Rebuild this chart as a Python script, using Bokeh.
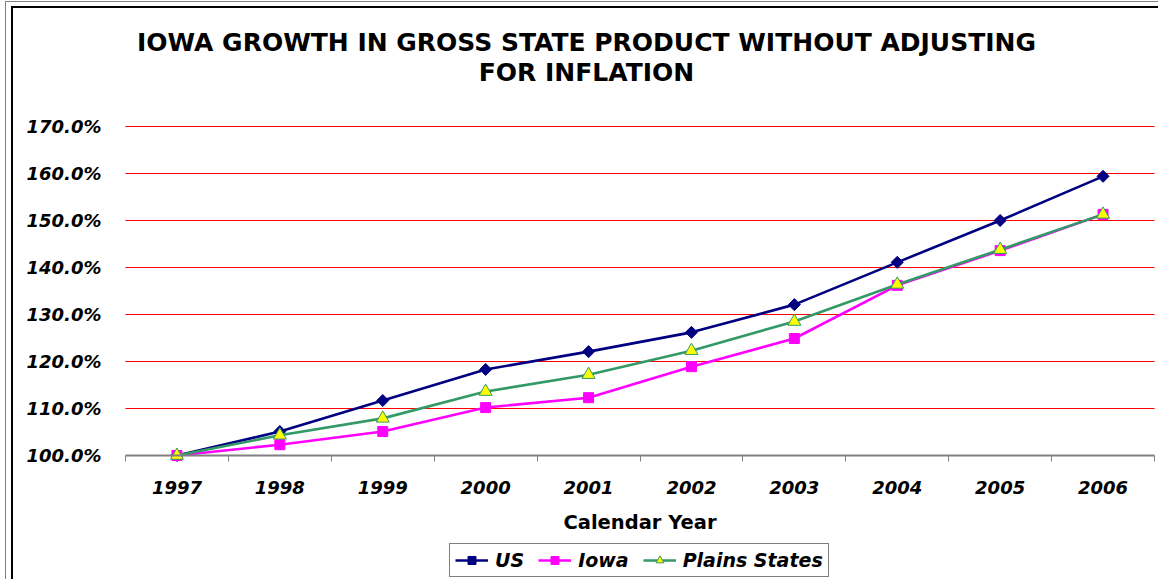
import math
from bokeh.plotting import figure
from bokeh.models import Range1d, FixedTicker, Legend, LegendItem, Label
from bokeh.embed import file_html
from bokeh.resources import INLINE

# ---- data ----
years = [1997, 1998, 1999, 2000, 2001, 2002, 2003, 2004, 2005, 2006]
us = [100.0, 105.1, 111.7, 118.3, 122.1, 126.2, 132.1, 141.1, 150.0, 159.4]
iowa = [100.0, 102.3, 105.1, 110.2, 112.3, 118.9, 124.9, 136.2, 143.6, 151.3]
plains = [100.0, 104.3, 107.9, 113.6, 117.2, 122.3, 128.5, 136.4, 143.8, 151.3]
y_ticks = [100, 110, 120, 130, 140, 150, 160, 170]
y_tick_labels = ["100.0%", "110.0%", "120.0%", "130.0%", "140.0%", "150.0%", "160.0%", "170.0%"]
title_lines = ["IOWA GROWTH IN GROSS STATE PRODUCT WITHOUT ADJUSTING", "FOR INFLATION"]
x_title = "Calendar Year"
series_names = ["US", "Iowa", "Plains States"]

FONT = "DejaVu Sans"
W, H = 1158, 579
# plot-area geometry in pixels (left, right, top, bottom)
PL, PR, PT, PB = 125, 1154, 126, 455

x_lo, x_hi = years[0] - 0.5, years[-1] + 0.5
y_lo, y_hi = y_ticks[0], y_ticks[-1]
xs = (PR - PL) / (x_hi - x_lo)
ys = (PB - PT) / (y_hi - y_lo)

frame_css = (
    ":host::before { content: ''; position: absolute; left: 5px; top: 1px; right: 0; bottom: 0;"
    " border-left: 1px solid #808080; border-top: 1px solid #808080; pointer-events: none; z-index: 100; }"
    ":host::after { content: ''; position: absolute; left: 11px; top: 6px; right: 0; bottom: 0;"
    " border-left: 2px solid #000; border-top: 2px solid #000; pointer-events: none; z-index: 100; }"
)

p = figure(width=W, height=H, output_backend="svg", toolbar_location=None,
           x_range=Range1d(x_lo - PL / xs, x_hi + (W - PR) / xs),
           y_range=Range1d(y_lo - (H - PB) / ys, y_hi + PT / ys),
           min_border=0, title=None, stylesheets=[frame_css])
p.outline_line_color = None
p.background_fill_color = "white"
p.border_fill_color = "white"

# x axis, fixed at the 100% line
xa = p.xaxis[0]
xa.fixed_location = y_lo
xa.bounds = (x_lo, x_hi)
xa.ticker = FixedTicker(ticks=years, minor_ticks=[y - 0.5 for y in years] + [x_hi])
xa.major_label_overrides = {y: str(y) for y in years}
xa.major_tick_line_color = None
xa.minor_tick_line_color = "#808080"
xa.minor_tick_line_width = 1
xa.minor_tick_out = 6
xa.minor_tick_in = 0
xa.axis_line_color = "#808080"
xa.axis_line_width = 2
xa.major_label_text_font = FONT
xa.major_label_text_font_style = "bold italic"
xa.major_label_text_font_size = "18px"
xa.major_label_text_color = "black"
xa.major_label_standoff = 19
xa.axis_label = x_title
xa.axis_label_text_font = FONT
xa.axis_label_text_font_style = "bold"
xa.axis_label_text_font_size = "19.5px"
xa.axis_label_text_color = "black"
xa.axis_label_standoff = 14

# y axis, fixed at the left edge of the plot area
ya = p.yaxis[0]
ya.fixed_location = x_lo
ya.bounds = (y_lo, y_hi)
ya.ticker = FixedTicker(ticks=y_ticks)
ya.major_label_overrides = {tk: lb for tk, lb in zip(y_ticks, y_tick_labels)}
ya.axis_line_color = None
ya.major_tick_line_color = None
ya.minor_tick_line_color = None
ya.major_label_text_font = FONT
ya.major_label_text_font_style = "bold italic"
ya.major_label_text_font_size = "18px"
ya.major_label_text_color = "black"
ya.major_label_standoff = 18

p.xgrid.grid_line_color = None
p.ygrid.grid_line_color = None

# horizontal gridlines, limited to the plot area
g = y_ticks[1:]
p.segment(x0=[x_lo] * len(g), x1=[x_hi] * len(g), y0=g, y1=g, line_color="#FF0000", line_width=1)

# series
l_us = p.line(years, us, line_color="#000080", line_width=2.6)
m_us = p.scatter(years, us, marker="square", size=8.5, angle=math.pi / 4,
                 fill_color="#000080", line_color="#000080")
l_io = p.line(years, iowa, line_color="#FF00FF", line_width=2.6)
m_io = p.scatter(years, iowa, marker="square", size=10, fill_color="#FF00FF", line_color="#FF00FF")
l_pl = p.line(years, plains, line_color="#339966", line_width=2.6)
m_pl = p.scatter(years, plains, marker="triangle", size=13, fill_color="#FFFF00",
                 line_color="#339966", line_width=1)

# title, two centred lines
for txt, cy in zip(title_lines, [42, 72]):
    p.add_layout(Label(x=586, y=H - cy, x_units="screen", y_units="screen", text=txt,
                       text_align="center", text_baseline="middle",
                       text_font=FONT, text_font_size="25px", text_font_style="bold",
                       text_color="black"))

legend = Legend(items=[LegendItem(label=series_names[0], renderers=[l_us, m_us]),
                       LegendItem(label=series_names[1], renderers=[l_io, m_io]),
                       LegendItem(label=series_names[2], renderers=[l_pl, m_pl])],
                location=(449, 2), orientation="horizontal",
                border_line_color="black", border_line_width=1,
                background_fill_color="white", background_fill_alpha=1,
                label_text_font=FONT, label_text_font_style="bold italic",
                label_text_font_size="19px", label_text_color="black",
                glyph_width=33, glyph_height=20, label_standoff=7, spacing=14,
                padding=5, margin=0)
p.add_layout(legend, "center")

open("out.html", "w").write(file_html(p, INLINE))
